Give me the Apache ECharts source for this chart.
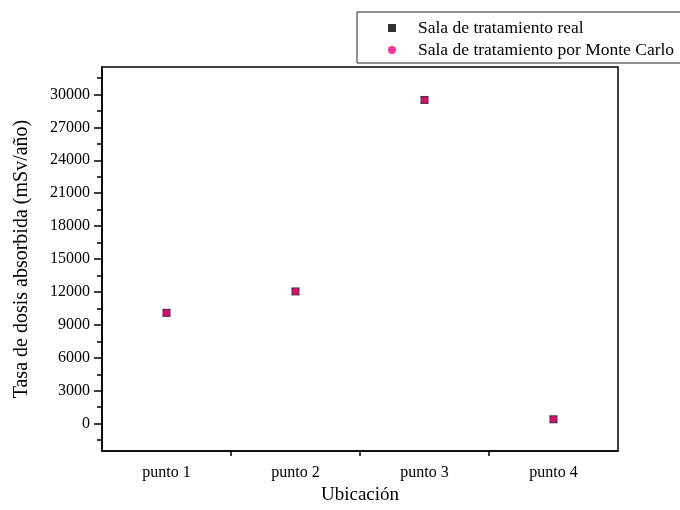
<!DOCTYPE html>
<html>
<head>
<meta charset="utf-8">
<script src="https://cdn.jsdelivr.net/npm/echarts@6/dist/echarts.min.js"></script>
<style>html,body{margin:0;padding:0;background:#fff;}#c{width:680px;height:510px;}</style>
</head>
<body>
<div id="c"></div>
<script>
const categories = ['punto 1', 'punto 2', 'punto 3', 'punto 4'];
const realValues = [10100, 12050, 29500, 400];
const monteCarloValues = [10100, 12050, 29500, 400];
const yMajorTicks = [0, 3000, 6000, 9000, 12000, 15000, 18000, 21000, 24000, 27000, 30000];
const yMinorTicks = [-1500, 1500, 4500, 7500, 10500, 13500, 16500, 19500, 22500, 25500, 28500, 31500];
const xMinorTicks = [1.5, 2.5, 3.5];

const FONT = 'Liberation Serif';
const chart = echarts.init(document.getElementById('c'), null, {renderer: 'canvas'});
chart.setOption({
  animation: false,
  backgroundColor: '#fff',
  grid: {left: 102, right: 62, top: 67, bottom: 58, show: true, borderColor: '#000', borderWidth: 1.5, backgroundColor: 'transparent'},
  legend: {
    orient: 'vertical', left: 357, top: 12,
    padding: [7, 10, 4, 31], itemGap: 4, itemWidth: 8, itemHeight: 8,
    borderColor: '#222', borderWidth: 1,
    textStyle: {fontFamily: FONT, fontSize: 17.5, color: '#000', padding: [0, 0, 0, 17]},
    data: [
      {name: 'Sala de tratamiento real', icon: 'rect', itemStyle: {color: '#000'}},
      {name: 'Sala de tratamiento por Monte Carlo', icon: 'circle', itemStyle: {color: '#FF0080'}}
    ]
  },
  xAxis: [{
    type: 'category', data: categories, boundaryGap: true,
    name: 'Ubicación', nameLocation: 'middle', nameGap: 31,
    nameTextStyle: {fontFamily: FONT, fontSize: 19, color: '#000'},
    axisLine: {onZero: false, lineStyle: {color: '#000', width: 1.5}},
    axisTick: {alignWithLabel: true, length: 8, lineStyle: {color: '#000', width: 1.5}},
    axisLabel: {fontFamily: FONT, fontSize: 16, color: '#000', margin: 14},
    splitLine: {show: false}
  }, {
    type: 'value', min: 0.5, max: 4.5, position: 'bottom',
    axisLine: {show: false, onZero: false},
    axisTick: {show: true, length: 5, customValues: xMinorTicks, lineStyle: {color: '#000', width: 1.5}},
    axisLabel: {show: false},
    splitLine: {show: false}
  }],
  yAxis: [{
    type: 'value', min: -2500, max: 32500,
    name: 'Tasa de dosis absorbida (mSv/año)', nameLocation: 'middle', nameGap: 70,
    nameTextStyle: {fontFamily: FONT, fontSize: 20, color: '#000'},
    axisLine: {show: true, onZero: false, lineStyle: {color: '#000', width: 1.5}},
    axisTick: {show: true, length: 8, customValues: yMajorTicks, lineStyle: {color: '#000', width: 1.5}},
    axisLabel: {fontFamily: FONT, fontSize: 16, color: '#000', margin: 12, customValues: yMajorTicks,
      formatter: v => String(v)},
    splitLine: {show: false}
  }, {
    type: 'value', min: -2500, max: 32500, position: 'left',
    axisLine: {show: false, onZero: false},
    axisTick: {show: true, length: 5, customValues: yMinorTicks, lineStyle: {color: '#000', width: 1.5}},
    axisLabel: {show: false},
    splitLine: {show: false}
  }],
  series: [{
    name: 'Sala de tratamiento real', type: 'scatter', xAxisIndex: 0, yAxisIndex: 0,
    symbol: 'rect', symbolSize: 8, itemStyle: {color: '#000'},
    data: realValues
  }, {
    name: 'Sala de tratamiento por Monte Carlo', type: 'scatter', xAxisIndex: 0, yAxisIndex: 0,
    symbol: 'circle', symbolSize: 7, itemStyle: {color: '#FF0080'},
    data: monteCarloValues
  }]
});
</script>
</body>
</html>
